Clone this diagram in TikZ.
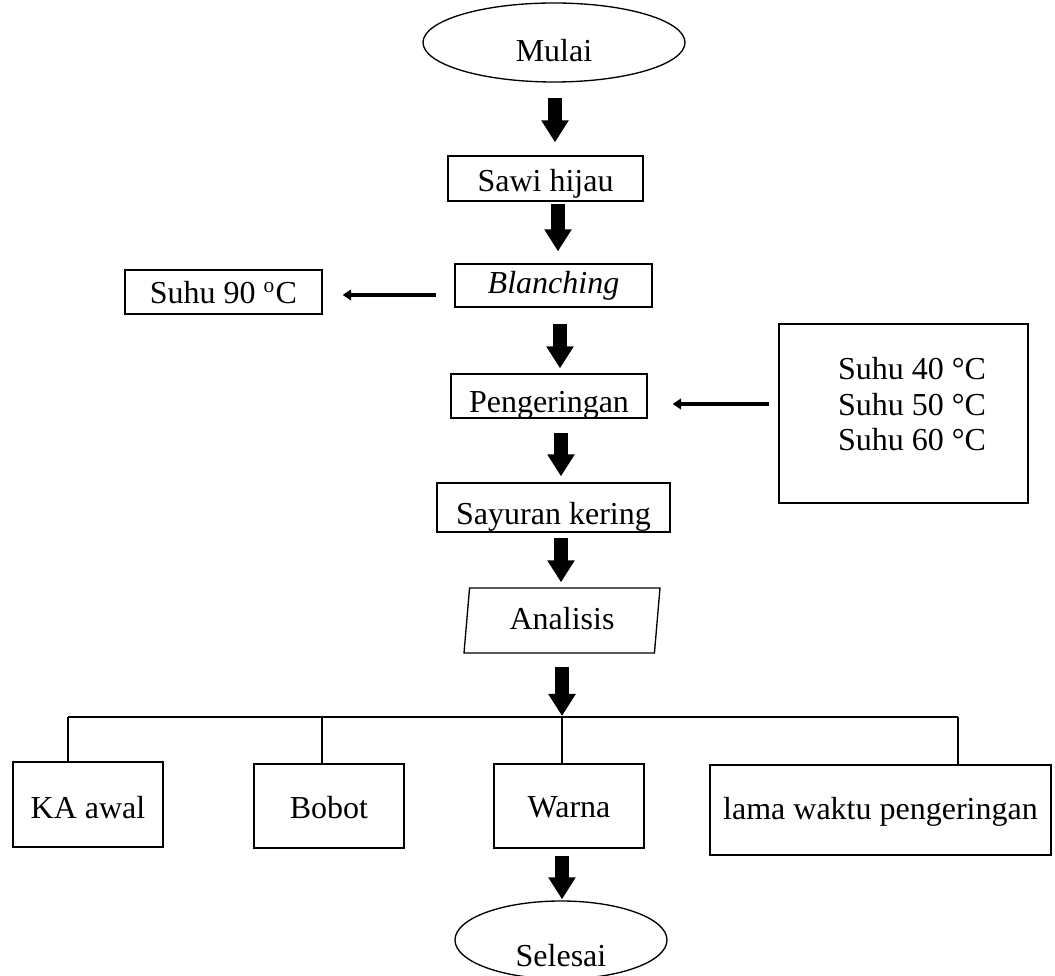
\documentclass[tikz,border=0pt]{standalone}
\usepackage{fontspec}
\setmainfont{Liberation Serif}
\usetikzlibrary{arrows.meta,shapes.geometric}
\newlength\PX
\setlength\PX{0.375pt}
\begin{document}
\begin{tikzpicture}[x=0.375pt, y=-0.375pt,
  every node/.style={font=\fontsize{12pt}{13.3pt}\selectfont},
  box/.style={draw, line width=0.5pt, rectangle, inner sep=0pt},
  oval/.style={draw, line width=0.5pt, ellipse, inner sep=0pt},
  para/.style={draw, line width=0.5pt, trapezium, trapezium left angle=73.7, trapezium right angle=106.3, trapezium stretches body, inner sep=0pt},
  bl/.style={text height=#1\PX, text depth=0pt},
  bigarrow/.style={line width=5.06pt, -{Triangle[length=8.25pt, width=9.75pt]}},
  thinarrow/.style={line width=1.69pt, -{Triangle[length=3.2pt, width=4pt]}},
  bus/.style={line width=0.5pt}]
\useasboundingbox (0,0) rectangle (1055,976);
% nodes
\node[oval, minimum width=262\PX, minimum height=79\PX, bl=39] (mulai) at (554,42.5) {Mulai};
\node[box, minimum width=195\PX, minimum height=45\PX, bl=27] (sawi) at (545.5,178.5) {Sawi hijau};
\node[box, minimum width=197\PX, minimum height=43\PX, bl=17] (blanch) at (553.5,285.5) {\itshape Blanching};
\node[box, minimum width=197\PX, minimum height=44\PX, bl=24] (suhu90) at (223.5,292) {Suhu 90 \textsuperscript{o}C};
\node[box, minimum width=196\PX, minimum height=44\PX, bl=34] (peng) at (549,396) {Pengeringan};
\node[box, minimum width=249\PX, minimum height=179\PX] (suhubox) at (903.5,413.5) {};
\node[align=center, inner sep=0pt] (suhutext) at (912,404.5) {Suhu 40 °C\\Suhu 50 °C\\Suhu 60 °C};
\node[box, minimum width=233\PX, minimum height=49\PX, bl=35] (sayur) at (553.5,507.5) {Sayuran kering};
\node[para, minimum width=196\PX, minimum height=65\PX, bl=19] (anl) at (562,620.5) {Analisis};
\node[box, minimum width=150\PX, minimum height=85\PX, bl=29] (ka) at (88,804.5) {KA awal};
\node[box, minimum width=150\PX, minimum height=84\PX, bl=26] (bobot) at (329,806) {Bobot};
\node[box, minimum width=150\PX, minimum height=84\PX, bl=24] (warna) at (569,806) {Warna};
\node[box, minimum width=341\PX, minimum height=90\PX, bl=20] (lama) at (880.5,810) {lama waktu pengeringan};
\node[oval, minimum width=212\PX, minimum height=78\PX, bl=54] (selesai) at (561,940) {Selesai};
% arrow columns
\coordinate (x1) at (555,0);
\coordinate (x2) at (558,0);
\coordinate (x3) at (560,0);
\coordinate (x4) at (561,0);
\coordinate (x5) at (561,0);
\coordinate (x7) at (562,0);
% bus
\coordinate (busL) at (68,717);
\coordinate (v2) at (322,717);
\coordinate (v3) at (562,717);
\coordinate (busR) at (958,717);
% main arrows
\draw[bigarrow, shorten <=15\PX, shorten >=13\PX] (mulai.south -| x1) -- (sawi.north -| x1);
\draw[bigarrow, shorten <=2\PX, shorten >=12\PX] (sawi.south -| x2) -- (blanch.north -| x2);
\draw[bigarrow, shorten <=16\PX, shorten >=5\PX] (blanch.south -| x3) -- (peng.north -| x3);
\draw[bigarrow, shorten <=14\PX, shorten >=6\PX] (peng.south -| x4) -- (sayur.north -| x4);
\draw[bigarrow, shorten <=5\PX, shorten >=5\PX] (sayur.south -| x5) -- (anl.north -| x5);
\draw[bigarrow, shorten <=13\PX, shorten >=1\PX] (anl.south -| v3) -- (v3);
\draw[bigarrow, shorten <=7\PX, shorten >=1\PX] (warna.south -| x7) -- (selesai.north -| x7);
% side arrows
\coordinate (bl) at ([yshift=-9.5\PX]blanch.west);
\draw[thinarrow, shorten <=18\PX, shorten >=20\PX] (bl) -- (bl -| suhu90.east);
\coordinate (rb) at ([yshift=9.5\PX]suhubox.west);
\draw[thinarrow, shorten <=9\PX, shorten >=25\PX] (rb) -- (rb -| peng.east);
% bus lines
\draw[bus] (busL) -- (busR);
\draw[bus] (busL) -- (busL |- ka.north);
\draw[bus] (v2) -- (v2 |- bobot.north);
\draw[bus] (v3) -- (v3 |- warna.north);
\draw[bus] (busR) -- (busR |- lama.north);
\end{tikzpicture}
\end{document}
